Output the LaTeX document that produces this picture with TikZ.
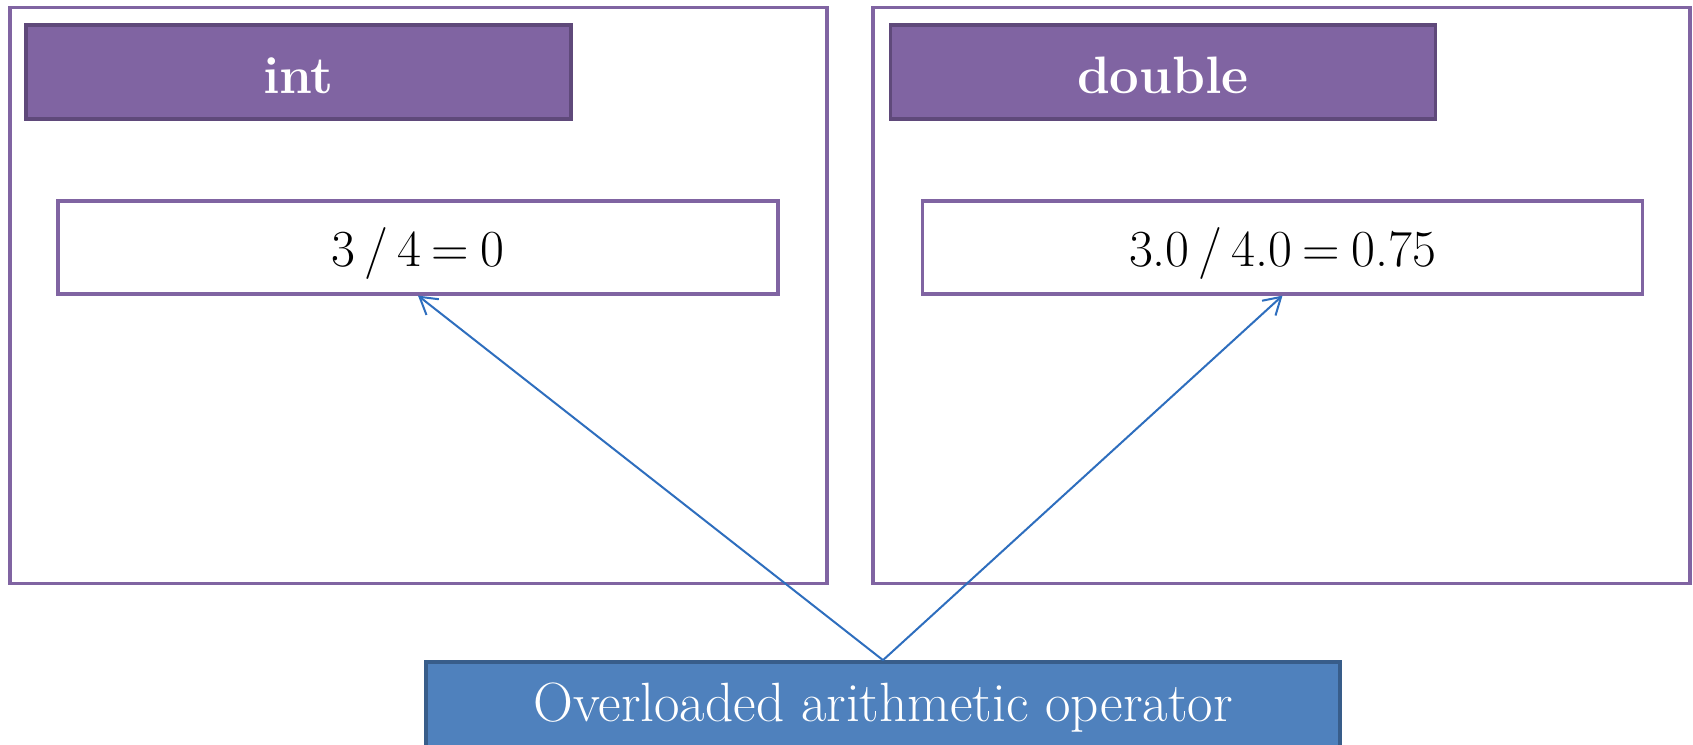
\documentclass[tikz,border=0pt]{standalone}
\usetikzlibrary{arrows.meta}
\definecolor{purp}{HTML}{8064A2}
\definecolor{purpdark}{HTML}{5F497A}
\definecolor{bluefill}{HTML}{4F81BD}
\definecolor{blueedge}{HTML}{385D8A}
\definecolor{arrowblue}{HTML}{2E6EBE}
\tikzset{
  panel/.style={draw=purp, line width=2.4pt, fill=white, minimum width=817*0.75pt, minimum height=576*0.75pt, inner sep=0pt},
  header/.style={draw=purpdark, line width=2.8pt, fill=purp, text=white, minimum width=545*0.75pt, minimum height=94*0.75pt, inner sep=0pt, text height=32.5pt, text depth=1pt, font=\fontsize{39.5}{42}\selectfont\bfseries},
  eqbox/.style={draw=purp, line width=2.4pt, fill=white, minimum width=720*0.75pt, minimum height=93*0.75pt, inner sep=0pt, text height=30pt, text depth=1.2pt, font=\fontsize{39}{42}\selectfont},
  opbox/.style={draw=blueedge, line width=2.8pt, fill=bluefill, text=white, minimum width=914*0.75pt, minimum height=92*0.75pt, inner sep=0pt, font=\fontsize{41.5}{44}\selectfont},
  link/.style={draw=arrowblue, line width=1.5pt, -{Straight Barb[length=12.5pt, width=15pt, line width=1.5pt]}}
}
\newcommand{\gapA}{\hspace{0.17em}}
\newcommand{\gapB}{\hspace{0.21em}}
\begin{document}
\begin{tikzpicture}[x=0.75pt, y=-0.75pt]
\useasboundingbox (0,0) rectangle (1693,744);
% two panels
\node[panel] (lpanel) at (418.4,295.8) {};
\node[panel] (rpanel) at (1281.5,295.8) {};
% type headers
\node[header] (hint) at (298.5,72) {int};
\node[header] (hdouble) at (1163,72) {double};
% division results
\node[eqbox] (eqint) at (418,247.5) {3\gapA/\gapA4\gapB=\gapB0};
\node[eqbox] (eqdouble) at (1282.5,247.5) {3.0\gapA/\gapA4.0\gapB=\gapB0.75};
% operator box
\node[opbox] (op) at (883,708) {Overloaded arithmetic operator};
% connectors
\draw[link] (op.north) -- (eqint.south);
\draw[link] (op.north) -- (eqdouble.south);
\end{tikzpicture}
\end{document}
